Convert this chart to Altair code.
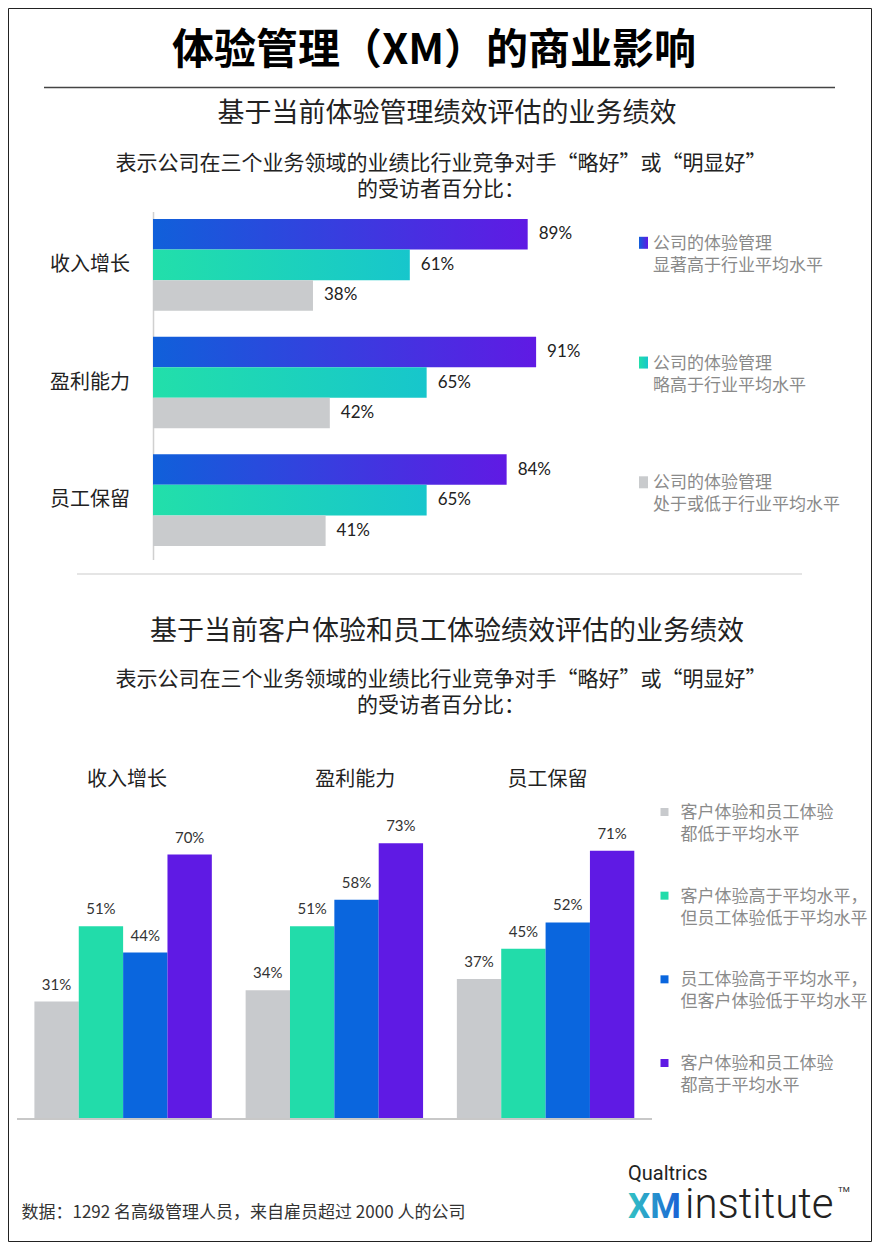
import altair as alt
import pandas as pd

# ---------------- data ----------------
top_categories = ["收入增长", "盈利能力", "员工保留"]
top_series = ["显著高于行业平均水平", "略高于行业平均水平", "处于或低于行业平均水平"]
top_significantly_above = [89, 91, 84]
top_slightly_above = [61, 65, 65]
top_at_or_below = [38, 42, 41]
top_legend_head = "公司的体验管理"

bottom_categories = ["收入增长", "盈利能力", "员工保留"]
bottom_series = ["both_below", "cx_above", "ex_above", "both_above"]
bottom_both_below = [31, 34, 37]
bottom_cx_above = [51, 51, 45]
bottom_ex_above = [44, 58, 52]
bottom_both_above = [70, 73, 71]
bottom_legend_line1 = ["客户体验和员工体验", "客户体验高于平均水平，", "员工体验高于平均水平，", "客户体验和员工体验"]
bottom_legend_line2 = ["都低于平均水平", "但员工体验低于平均水平", "但客户体验低于平均水平", "都高于平均水平"]
bottom_colors = ["#c8cacd", "#22dcaa", "#0a66de", "#5f1ae4"]

title_text = "体验管理（XM）的商业影响"
subtitle1 = "基于当前体验管理绩效评估的业务绩效"
subtitle2 = "基于当前客户体验和员工体验绩效评估的业务绩效"
desc_text = "表示公司在三个业务领域的业绩比行业竞争对手“略好”或“明显好”\n的受访者百分比："
footer_text = "数据：1292 名高级管理人员，来自雇员超过 2000 人的公司"

CJK = "Noto Sans CJK SC"
W, H = 864, 1234


def grad(c0, c1):
    return alt.LinearGradient(
        gradient="linear",
        stops=[alt.GradientStop(offset=0, color=c0), alt.GradientStop(offset=1, color=c1)],
        x1=0, x2=1, y1=0, y2=0,
    )


GRAD_PURPLE = grad("#1060da", "#601ae4")
GRAD_TEAL = grad("#22dfaa", "#17c6cc")
GRAY = "#c9cbcd"
top_fills = [GRAD_PURPLE, GRAD_TEAL, GRAY]

# ---------------- tables ----------------
top_rows = []
for i, c in enumerate(top_categories):
    for s, vals in zip(top_series, [top_significantly_above, top_slightly_above, top_at_or_below]):
        top_rows.append({"category": c, "series": s, "value": vals[i], "label": f"{vals[i]}%"})
top_df = pd.DataFrame(top_rows)
top_leg_df = pd.DataFrame({"series": top_series,
                           "text": [top_legend_head + "\n" + d for d in top_series]})

bot_rows = []
for i, c in enumerate(bottom_categories):
    for s, vals in zip(bottom_series, [bottom_both_below, bottom_cx_above, bottom_ex_above, bottom_both_above]):
        bot_rows.append({"bcat": c, "bseries": s, "bvalue": vals[i], "blabel": f"{vals[i]}%"})
bot_df = pd.DataFrame(bot_rows)
bot_leg_df = pd.DataFrame({"bseries": bottom_series,
                           "text": [a + "\n" + b for a, b in zip(bottom_legend_line1, bottom_legend_line2)]})

# ---------------- scales ----------------
y_top = alt.Y("category:N", sort=top_categories, axis=None,
              scale=alt.Scale(type="band", domain=top_categories, range=[211, 538],
                              paddingInner=0.22, paddingOuter=0))
yoff_top = alt.YOffset("series:N", sort=top_series,
                       scale=alt.Scale(type="band", domain=top_series, paddingInner=0, paddingOuter=0))
x_top = alt.X("value:Q", axis=None, scale=alt.Scale(domain=[0, 100], range=[145, 566]))
y_top_leg = alt.Y("series:N", sort=top_series, axis=None,
                  scale=alt.Scale(type="point", domain=top_series, range=[234.8, 474.3], padding=0))

x_bot = alt.X("bcat:N", sort=bottom_categories, axis=None,
              scale=alt.Scale(type="band", domain=bottom_categories, range=[26.4, 626.3],
                              paddingInner=0.16, paddingOuter=0))
xoff_bot = alt.XOffset("bseries:N", sort=bottom_series,
                       scale=alt.Scale(type="band", domain=bottom_series, paddingInner=0, paddingOuter=0))
y_bot = alt.Y("bvalue:Q", axis=None, scale=alt.Scale(domain=[0, 100], range=[1110.3, 733.6]))
c_bot = alt.Color("bseries:N", legend=None, scale=alt.Scale(domain=bottom_series, range=bottom_colors))
y_bot_leg = alt.Y("bseries:N", sort=bottom_series, axis=None,
                  scale=alt.Scale(type="point", domain=bottom_series, range=[804, 1055], padding=0))


# ---------------- helpers ----------------
def txt(s, x, y, size, color="#222", weight="normal", font=CJK, align="center", baseline="middle", **kw):
    return alt.Chart(pd.DataFrame({"t": [s]})).mark_text(
        align=align, baseline=baseline, fontSize=size, font=font, fontWeight=weight, color=color, **kw
    ).encode(x=alt.value(x), y=alt.value(y), text="t:N")


def hrule(x1, x2, y, color, w):
    return alt.Chart(pd.DataFrame({"a": [0]})).mark_rule(color=color, strokeWidth=w).encode(
        x=alt.value(x1), x2=alt.value(x2), y=alt.value(y))


def vrule(x, y1, y2, color, w):
    return alt.Chart(pd.DataFrame({"a": [0]})).mark_rule(color=color, strokeWidth=w).encode(
        x=alt.value(x), y=alt.value(y1), y2=alt.value(y2))


layers = []

# frame
layers.append(alt.Chart(pd.DataFrame({"a": [0]})).mark_rect(fillOpacity=0, stroke="#222", strokeWidth=1).encode(
    x=alt.value(0.5), x2=alt.value(W - 0.5), y=alt.value(0.5), y2=alt.value(H - 0.5)))

# header
layers.append(txt(title_text, 426, 43, 42, color="#000", weight="bold"))
layers.append(hrule(36, 827, 79.5, "#444", 1.5))
layers.append(txt(subtitle1, 439, 106, 27))
layers.append(txt(desc_text, 433, 162, 21, baseline="alphabetic", lineBreak="\n", lineHeight=26))

# ---- top chart ----
layers.append(vrule(145.5, 204, 552, "#d0d0d0", 1.5))
for s, fill in zip(top_series, top_fills):
    layers.append(
        alt.Chart(top_df).transform_filter(alt.datum.series == s)
        .mark_bar(color=fill, opacity=1)
        .encode(x=x_top, y=y_top, yOffset=yoff_top)
    )
layers.append(
    alt.Chart(top_df).mark_text(align="left", baseline="middle", dx=11, fontSize=17, font="Lato", color="#222")
    .encode(x=x_top, y=y_top, yOffset=yoff_top, text="label:N")
)
layers.append(
    alt.Chart(pd.DataFrame({"category": top_categories})).mark_text(
        align="right", baseline="middle", fontSize=20, font=CJK, color="#222")
    .encode(x=alt.value(122), y=y_top, text="category:N")
)
# top legend
sq_shape = "M-0.75,-1L0.75,-1L0.75,1L-0.75,1Z"
for s, fill in zip(top_series, top_fills):
    layers.append(
        alt.Chart(top_leg_df).transform_filter(alt.datum.series == s)
        .mark_point(shape=sq_shape, size=144, filled=True, opacity=1, color=fill, strokeWidth=0)
        .encode(x=alt.value(635.5), y=y_top_leg)
    )
layers.append(
    alt.Chart(top_leg_df).mark_text(align="left", baseline="alphabetic", dy=6, lineBreak="\n", lineHeight=22,
                                    fontSize=17, font=CJK, color="#8a8a8a")
    .encode(x=alt.value(645), y=y_top_leg, text="text:N")
)

# separator + second header
layers.append(hrule(69, 794, 566, "#dddddd", 1.5))
layers.append(txt(subtitle2, 439, 624, 27))
layers.append(txt(desc_text, 433, 678, 21, baseline="alphabetic", lineBreak="\n", lineHeight=26))

# ---- bottom chart ----
layers.append(
    alt.Chart(bot_df).mark_bar(opacity=1).encode(x=x_bot, xOffset=xoff_bot, y=y_bot, color=c_bot)
)
layers.append(hrule(9, 644, 1111, "#c8c8c8", 2))
layers.append(
    alt.Chart(bot_df).mark_text(align="center", baseline="alphabetic", dy=-12, fontSize=15, font="Lato", color="#333")
    .encode(x=x_bot, xOffset=xoff_bot, y=y_bot, text="blabel:N")
)
header_dx = [4, 21, 2]
for c, d in zip(bottom_categories, header_dx):
    layers.append(
        alt.Chart(pd.DataFrame({"bcat": [c]})).mark_text(
            align="center", baseline="middle", dx=d, fontSize=20, font=CJK, color="#222")
        .encode(x=x_bot, y=alt.value(772), text="bcat:N")
    )
# bottom legend
layers.append(
    alt.Chart(bot_leg_df).mark_square(size=64, opacity=1, filled=True)
    .encode(x=alt.value(656.5), y=y_bot_leg, color=c_bot)
)
layers.append(
    alt.Chart(bot_leg_df).mark_text(align="left", baseline="alphabetic", dy=6, lineBreak="\n", lineHeight=22,
                                    fontSize=17, font=CJK, color="#8a8a8a")
    .encode(x=alt.value(672.5), y=y_bot_leg, text="text:N")
)

# footer + logo
layers.append(txt(footer_text, 13.5, 1205, 17, color="#333", align="left"))
layers.append(txt("Qualtrics", 620, 1172, 20, color="#222", font="Roboto", align="left", baseline="alphabetic"))
layers.append(txt("XM", 620, 1210, 35, color=grad("#33c4c4", "#1a5fd6"), weight="bold", font="Roboto",
                  align="left", baseline="alphabetic"))
layers.append(txt("institute", 677, 1210, 42, color="#222", weight=300, font="Roboto",
                  align="left", baseline="alphabetic"))
layers.append(txt("TM", 830, 1184, 8, color="#222", font="Roboto", align="left", baseline="alphabetic"))

chart = (
    alt.layer(*layers)
    .resolve_scale(x="independent", y="independent", xOffset="independent", yOffset="independent")
    .properties(width=W, height=H, padding=0, autosize=alt.AutoSizeParams(type="none"))
    .configure_view(stroke=None)
)

chart.save("out.html", embed_options={"renderer": "svg", "actions": False})
